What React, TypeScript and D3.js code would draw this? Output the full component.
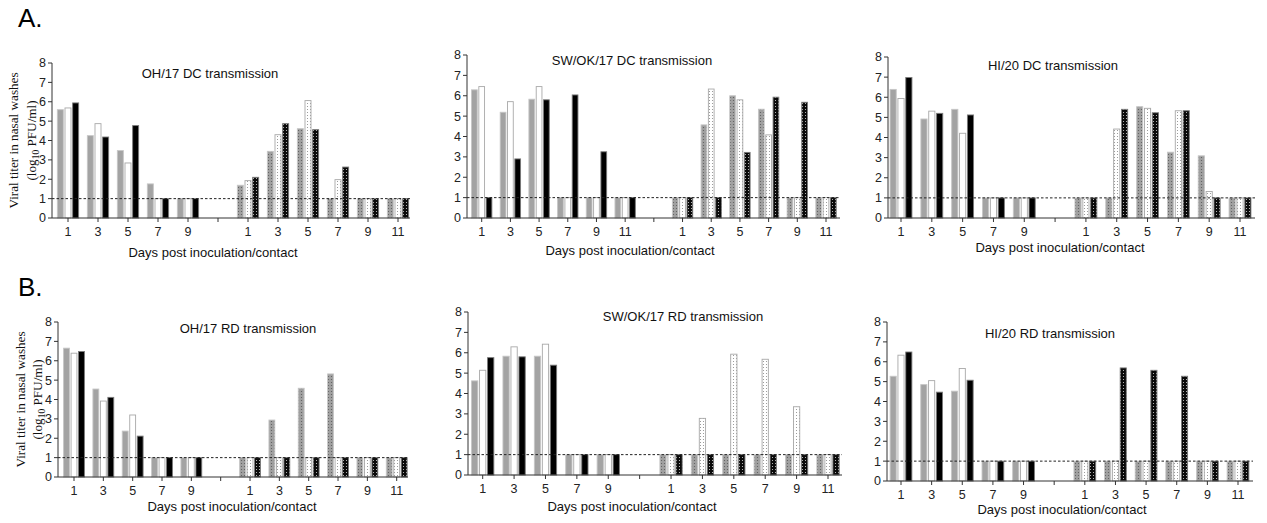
import React from "react";
import * as d3 from "d3";

// days on the x axis
const inocDays = ["1", "3", "5", "7", "9"];
const inocDaysLong = ["1", "3", "5", "7", "9", "11"];
const contactDays = ["1", "3", "5", "7", "9", "11"];
const yTicks = [0, 1, 2, 3, 4, 5, 6, 7, 8];
const detectionLimit = 1;

// each row is one day: [grey animal, white animal, black animal]
const ohDcInoc = [[5.59, 5.68, 5.94], [4.25, 4.87, 4.18], [3.48, 2.84, 4.77], [1.76, 1, 1], [1, 1, 1]];
const ohDcContact = [[1.69, 1.93, 2.1], [3.44, 4.3, 4.87], [4.61, 6.06, 4.56], [1, 1.98, 2.63], [1, 1, 1], [1, 1, 1]];

const swDcInoc = [[6.29, 6.45, 1], [5.19, 5.71, 2.9], [5.83, 6.45, 5.8], [1, 1, 6.04], [1, 1, 3.25], [1, 1, 1]];
const swDcContact = [[1, 1, 1], [4.57, 6.33, 1], [6.0, 5.8, 3.22], [5.34, 4.08, 5.93], [1, 1, 5.68], [1, 1, 1]];

const hiDcInoc = [[6.39, 5.94, 6.98], [4.92, 5.31, 5.2], [5.4, 4.21, 5.12], [1, 1, 1], [1, 1, 1]];
const hiDcContact = [[1, 1, 1], [1, 4.42, 5.4], [5.53, 5.45, 5.23], [3.27, 5.33, 5.33], [3.09, 1.32, 1], [1, 1, 1]];

const ohRdInoc = [[6.65, 6.39, 6.48], [4.54, 3.92, 4.11], [2.37, 3.2, 2.11], [1, 1, 1], [1, 1, 1]];
const ohRdContact = [[1, 1, 1], [2.94, 1, 1], [4.58, 1, 1], [5.32, 1, 1], [1, 1, 1], [1, 1, 1]];

const swRdInoc = [[4.62, 5.14, 5.76], [5.83, 6.29, 5.8], [5.83, 6.42, 5.39], [1, 1, 1], [1, 1, 1]];
const swRdContact = [[1, 1, 1], [1, 2.78, 1], [1, 5.93, 1], [1, 5.68, 1], [1, 3.35, 1], [1, 1, 1]];

const hiRdInoc = [[5.27, 6.33, 6.49], [4.85, 5.05, 4.47], [4.52, 5.66, 5.07], [1, 1, 1], [1, 1, 1]];
const hiRdContact = [[1, 1, 1], [1, 1, 5.69], [1, 1, 5.57], [1, 1, 5.27], [1, 1, 1], [1, 1, 1]];

const sans = "'Liberation Sans', Arial, Helvetica, sans-serif";
const serif = "'Liberation Serif', 'Times New Roman', serif";

const solidFill = ["#a3a3a3", "#ffffff", "#000000"];
const solidStroke = ["#c6c6c6", "#a8a8a8", "#7a7a7a"];
const dotFill = ["url(#dotGrey)", "url(#dotWhite)", "url(#dotBlack)"];

const panels = [
  { title: "OH/17 DC transmission", inocDays, inoc: ohDcInoc, contact: ohDcContact,
    x0: 52, x1: 410, c0: 68, c1: 398, yTop: 63, yBot: 218, tx: 210, ty: 73, lx: 213, ly: 252, yTitle: [13, 31] },
  { title: "SW/OK/17 DC transmission", inocDays: inocDaysLong, inoc: swDcInoc, contact: swDcContact,
    x0: 467, x1: 840, c0: 481.7, c1: 826, yTop: 55, yBot: 218, tx: 632, ty: 60, lx: 630, ly: 250 },
  { title: "HI/20 DC transmission", inocDays, inoc: hiDcInoc, contact: hiDcContact,
    x0: 888, x1: 1255, c0: 901, c1: 1240, yTop: 57, yBot: 218, tx: 1053, ty: 65, lx: 1060, ly: 247 },
  { title: "OH/17 RD transmission", inocDays, inoc: ohRdInoc, contact: ohRdContact,
    x0: 58, x1: 408, c0: 74, c1: 396.7, yTop: 322, yBot: 477, tx: 248, ty: 328, lx: 232, ly: 506, yTitle: [20, 37] },
  { title: "SW/OK/17 RD transmission", inocDays, inoc: swRdInoc, contact: swRdContact,
    x0: 468, x1: 842, c0: 482.7, c1: 828, yTop: 312, yBot: 475, tx: 683, ty: 316, lx: 632, ly: 506 },
  { title: "HI/20 RD transmission", inocDays, inoc: hiRdInoc, contact: hiRdContact,
    x0: 887, x1: 1253, c0: 901, c1: 1238, yTop: 322, yBot: 481, tx: 1050, ty: 333, lx: 1062, ly: 509 },
];

function Panel({ p }: { p: any }) {
  const keys = [...p.inocDays.map((d: string) => "i" + d), "gap", ...contactDays.map((d) => "c" + d)];
  const x = d3.scalePoint<string>().domain(keys).range([p.c0, p.c1]);
  const y = d3.scaleLinear().domain([0, 8]).range([p.yBot, p.yTop]);
  const step = x.step();
  const bw = step * 0.2;
  const offs = [-0.255, 0, 0.255].map((o) => o * step);

  const bars: any[] = [];
  p.inoc.forEach((vals: number[], i: number) => {
    vals.forEach((v, s) => bars.push({ key: "i" + p.inocDays[i], v, s, fill: solidFill[s] }));
  });
  p.contact.forEach((vals: number[], i: number) => {
    vals.forEach((v, s) => bars.push({ key: "c" + contactDays[i], v, s, fill: dotFill[s] }));
  });

  const mid = (p.yTop + p.yBot) / 2;

  return (
    <g>
      {bars.map((b, i) => (
        <rect
          key={i}
          x={(x(b.key) as number) + offs[b.s] - bw / 2}
          y={y(b.v)}
          width={bw}
          height={y(0) - y(b.v)}
          fill={b.fill}
          stroke={solidStroke[b.s]}
          strokeWidth={0.9}
        />
      ))}
      <line x1={p.x0} x2={p.x1} y1={y(detectionLimit)} y2={y(detectionLimit)}
        stroke="#222" strokeWidth={1} strokeDasharray="2.5,2" />
      {/* y axis */}
      <line x1={p.x0} x2={p.x0} y1={y(0)} y2={y(8)} stroke="#333" strokeWidth={1} />
      {yTicks.map((t) => (
        <g key={t}>
          <line x1={p.x0 - 4} x2={p.x0} y1={y(t)} y2={y(t)} stroke="#333" />
          <text x={p.x0 - 6} y={y(t)} dy="0.35em" textAnchor="end" fontSize={12.5} fontFamily={sans} fill="#222">{t}</text>
        </g>
      ))}
      {/* x axis */}
      <line x1={p.x0} x2={p.x1} y1={y(0)} y2={y(0)} stroke="#333" strokeWidth={1} />
      {keys.map((k) => (
        <g key={k}>
          <line x1={x(k)} x2={x(k)} y1={y(0)} y2={y(0) + 4} stroke="#333" />
          <text x={x(k)} y={y(0) + 13.5} dy="0.35em" textAnchor="middle" fontSize={12.5} fontFamily={sans} fill="#222">
            {k === "gap" ? "" : k.slice(1)}
          </text>
        </g>
      ))}
      <text x={p.tx} y={p.ty} dy="0.35em" textAnchor="middle" fontSize={13} fontFamily={sans} fill="#111">{p.title}</text>
      <text x={p.lx} y={p.ly} dy="0.35em" textAnchor="middle" fontSize={13} fontFamily={sans} fill="#111">
        Days post inoculation/contact
      </text>
      {p.yTitle && (
        <g fontFamily={serif} fontSize={13.2} fill="#111" textAnchor="middle">
          <text transform={`translate(${p.yTitle[0]},${mid}) rotate(-90)`} dy="0.35em">Viral titer in nasal washes</text>
          <text transform={`translate(${p.yTitle[1]},${mid}) rotate(-90)`} dy="0.35em">
            (log<tspan fontSize={9.5} dy="3">10</tspan><tspan dy="-3"> PFU/ml)</tspan>
          </text>
        </g>
      )}
    </g>
  );
}

export default function App() {
  return (
    <svg width={1267} height={523} style={{ position: "absolute", left: 0, top: 0, background: "#fff" }}>
      <defs>
        <pattern id="dotGrey" width={3} height={3} patternUnits="userSpaceOnUse">
          <rect width={3} height={3} fill="#a0a0a0" />
          <circle cx={1.5} cy={1.5} r={0.6} fill="#5a5a5a" />
        </pattern>
        <pattern id="dotWhite" width={3} height={3} patternUnits="userSpaceOnUse">
          <rect width={3} height={3} fill="#ffffff" />
          <circle cx={1.5} cy={1.5} r={0.55} fill="#8a8a8a" />
        </pattern>
        <pattern id="dotBlack" width={3} height={3} patternUnits="userSpaceOnUse">
          <rect width={3} height={3} fill="#0a0a0a" />
          <circle cx={1.5} cy={1.5} r={0.55} fill="#cfcfcf" />
        </pattern>
      </defs>
      <text x={18} y={27} fontSize={26} fontFamily={sans} fill="#000">A.</text>
      <text x={18} y={296} fontSize={26} fontFamily={sans} fill="#000">B.</text>
      {panels.map((p, i) => (
        <Panel key={i} p={p} />
      ))}
    </svg>
  );
}
